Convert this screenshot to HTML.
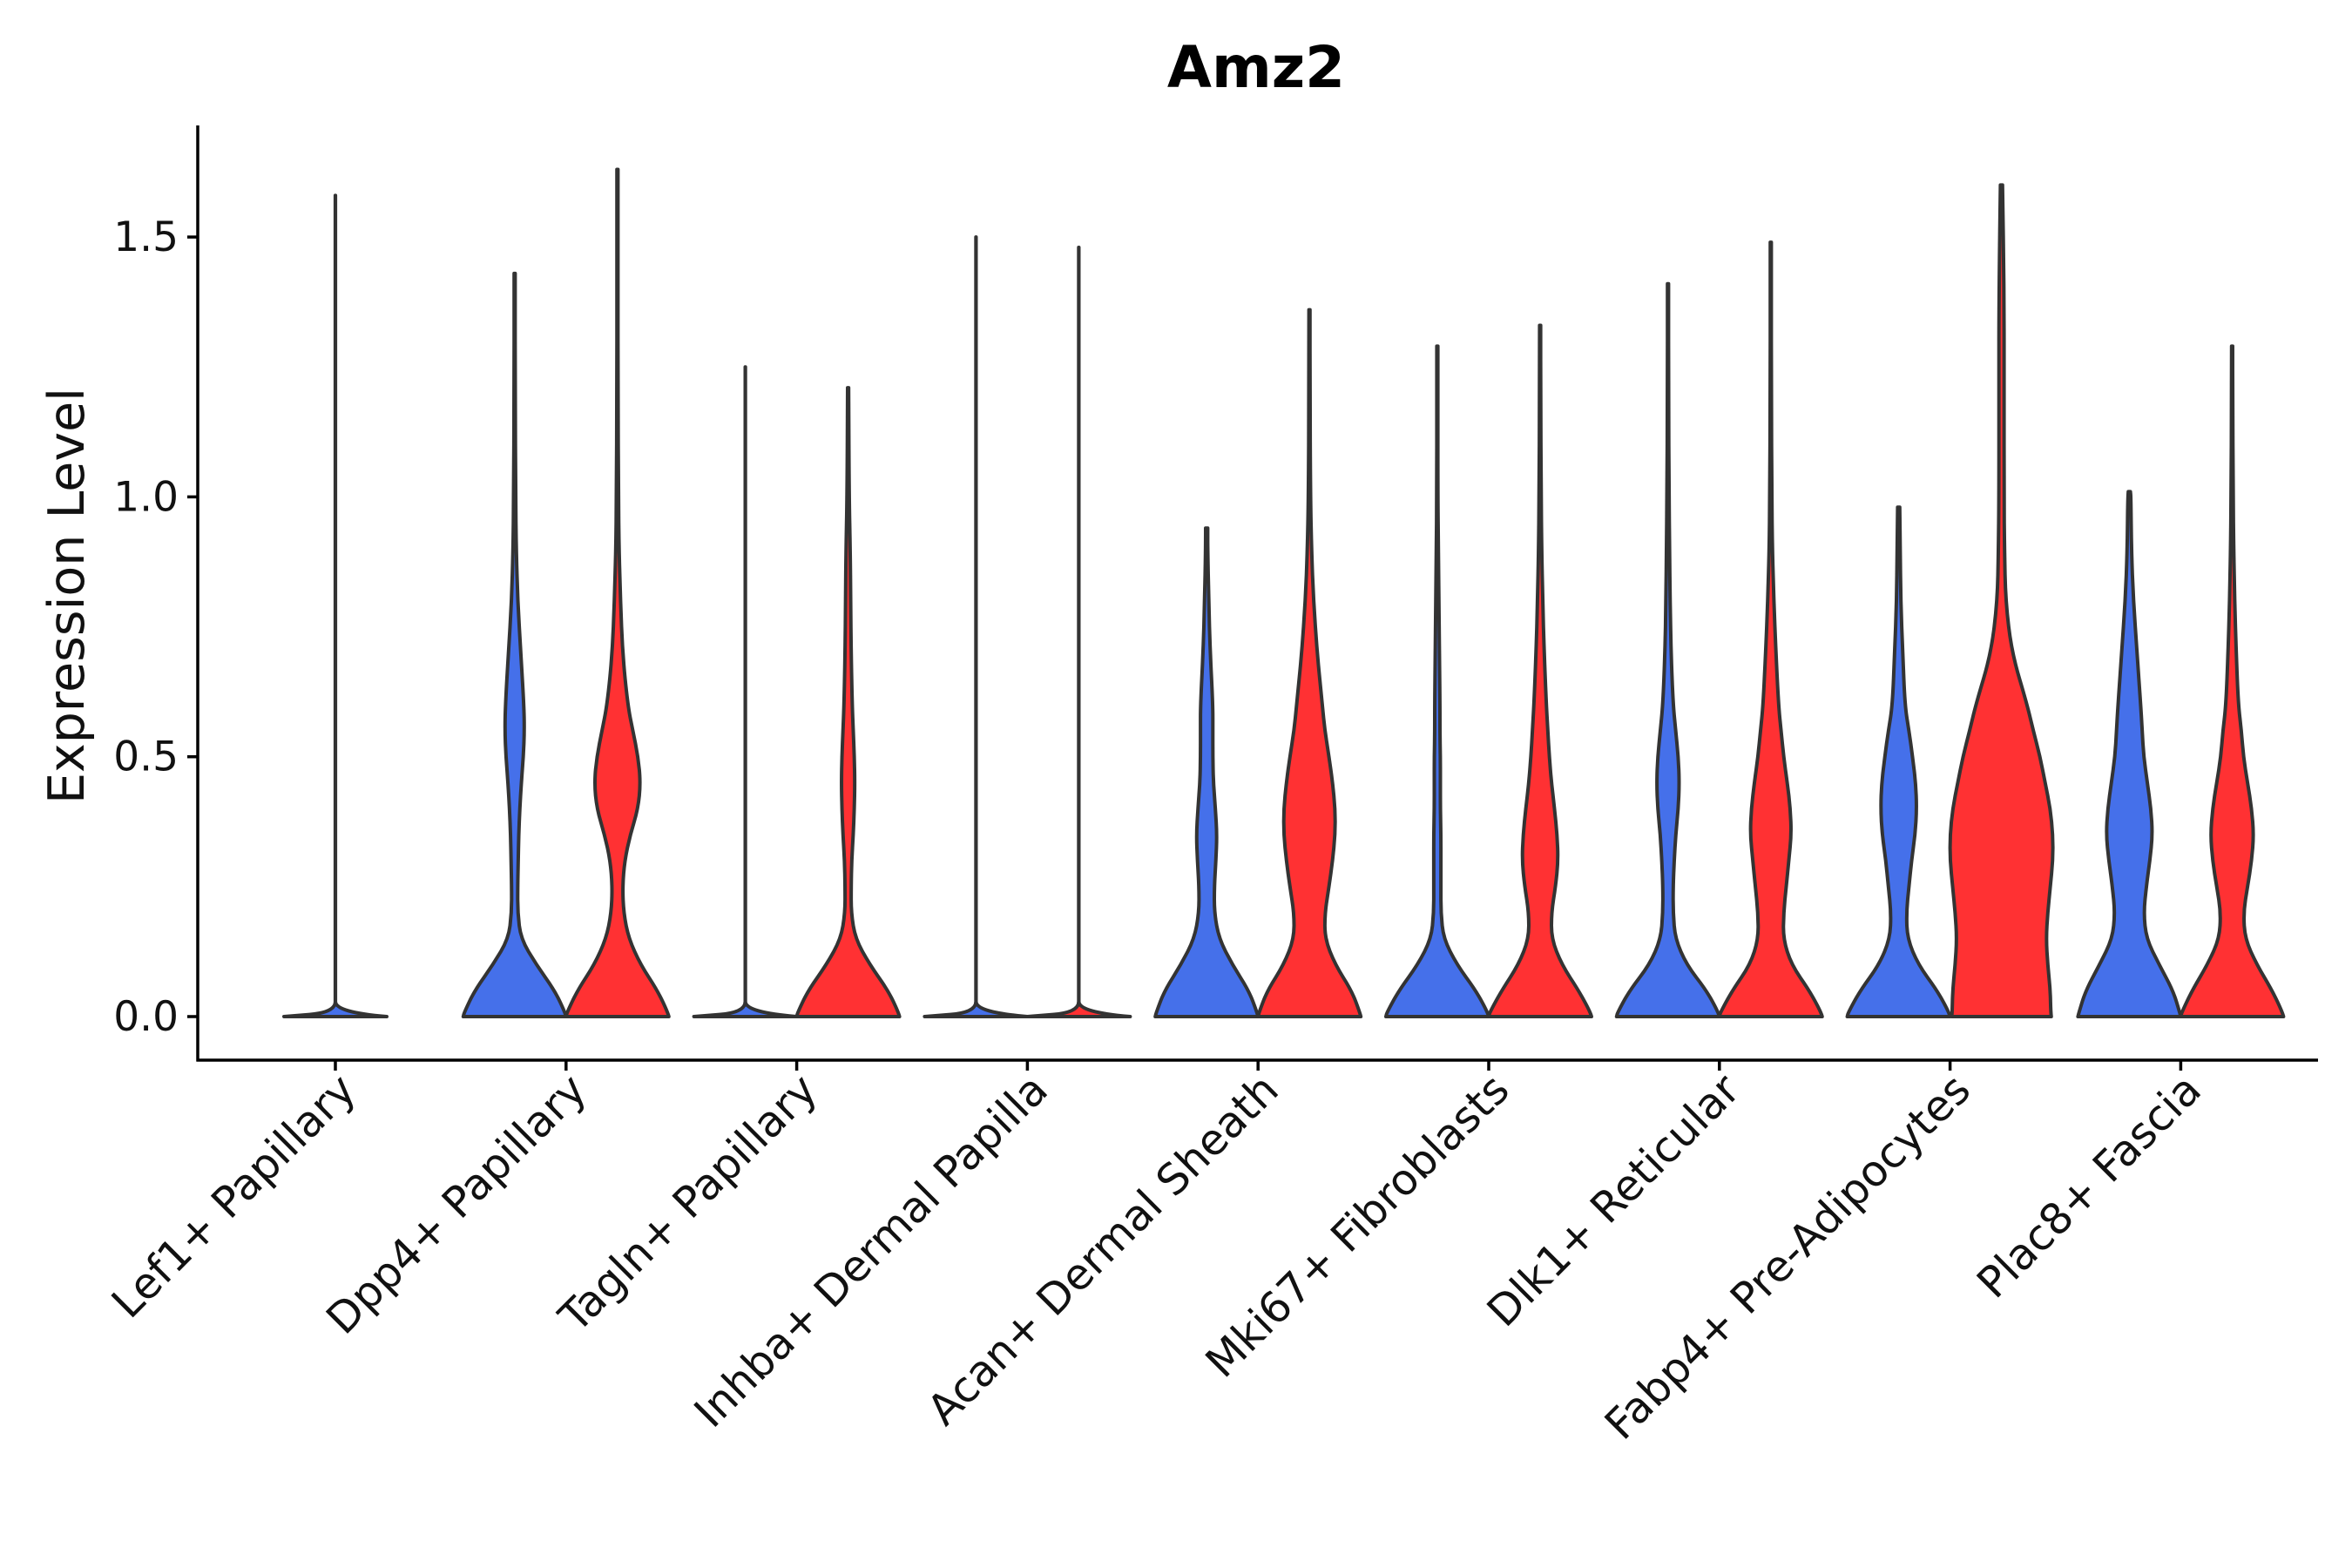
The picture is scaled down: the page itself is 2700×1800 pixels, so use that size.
<!DOCTYPE html>
<html><head><meta charset="utf-8"><style>
html,body{margin:0;padding:0;background:#fff;}
svg{display:block;font-family:"DejaVu Sans","Liberation Sans",sans-serif;}
</style></head><body>
<svg id="chart" width="2700" height="1800" viewBox="0 0 2700 1800"></svg>
<script>
const categories = ["Lef1+ Papillary","Dpp4+ Papillary","Tagln+ Papillary","Inhba+ Dermal Papilla","Acan+ Dermal Sheath","Mki67+ Fibroblasts","Dlk1+ Reticular","Fabp4+ Pre-Adipocytes","Plac8+ Fascia"];
const yTicks = [0, 0.5, 1.0, 1.5];
const yTickLabels = ["0.0","0.5","1.0","1.5"];
const levels = [0,0.008,0.05,0.1,0.15,0.2,0.25,0.3,0.35,0.4,0.45,0.5,0.55,0.6,0.7,0.8,0.9,1.0,1.2,1.4,1.6];
const flat = [1,0.002,0.002,0.002,0.002,0.002,0.002,0.002,0.002,0.002,0.002,0.002,0.002,0.002,0.002,0.002,0.002,0.002,0.002,0.002,0.002];
const violinGroup = [0,1,1,2,2,3,3,4,4,5,5,6,6,7,7,8,8];
const violinSide  = [0,-1,1,-1,1,-1,1,-1,1,-1,1,-1,1,-1,1,-1,1];
const violinMax   = [1.58,1.43,1.63,1.25,1.21,1.5,1.48,0.94,1.36,1.29,1.33,1.41,1.49,0.98,1.6,1.01,1.29];
const violinWidths = [
 flat,
 [1,0.98,0.78,0.42,0.12,0.06,0.06,0.07,0.08,0.1,0.13,0.17,0.19,0.18,0.12,0.06,0.03,0.02,0.01,0.01,0.01],
 [1,0.98,0.78,0.45,0.22,0.12,0.1,0.14,0.25,0.4,0.45,0.4,0.3,0.2,0.1,0.06,0.03,0.02,0.01,0.01,0.01],
 flat,
 [1,0.98,0.78,0.42,0.14,0.06,0.06,0.07,0.1,0.12,0.13,0.12,0.1,0.08,0.06,0.05,0.04,0.02,0.01,0.01,0.01],
 flat,
 flat,
 [1,0.98,0.82,0.5,0.24,0.15,0.15,0.18,0.2,0.17,0.13,0.12,0.12,0.12,0.07,0.04,0.02,0.02,0.02,0.02,0.02],
 [1,0.98,0.82,0.5,0.3,0.3,0.38,0.45,0.5,0.5,0.45,0.38,0.3,0.25,0.15,0.08,0.04,0.02,0.01,0.01,0.01],
 [1,0.98,0.75,0.38,0.12,0.07,0.07,0.07,0.07,0.06,0.06,0.06,0.05,0.05,0.04,0.03,0.02,0.01,0.01,0.01,0.01],
 [1,0.98,0.75,0.42,0.22,0.22,0.3,0.35,0.33,0.28,0.22,0.18,0.15,0.12,0.08,0.05,0.03,0.02,0.01,0.01,0.01],
 [1,0.98,0.75,0.36,0.14,0.1,0.1,0.12,0.15,0.2,0.22,0.2,0.15,0.1,0.06,0.04,0.03,0.02,0.01,0.01,0.01],
 [1,0.98,0.75,0.4,0.24,0.25,0.3,0.35,0.4,0.38,0.32,0.25,0.2,0.15,0.1,0.06,0.03,0.02,0.01,0.01,0.01],
 [1,0.98,0.75,0.38,0.17,0.15,0.2,0.25,0.32,0.35,0.33,0.27,0.2,0.12,0.08,0.04,0.03,0.03,0.03,0.03,0.03],
 [0.97,0.96,0.95,0.9,0.87,0.9,0.95,1.0,1.0,0.95,0.85,0.75,0.62,0.5,0.2,0.08,0.06,0.05,0.05,0.05,0.04],
 [1,0.98,0.85,0.58,0.33,0.28,0.33,0.4,0.45,0.42,0.35,0.28,0.25,0.22,0.15,0.08,0.04,0.03,0.03,0.03,0.03],
 [1,0.98,0.78,0.48,0.25,0.22,0.3,0.38,0.42,0.38,0.3,0.22,0.18,0.12,0.08,0.05,0.03,0.02,0.01,0.01,0.01]
];
const colors = {"-1":"#4570EA","1":"#FF3133","0":"#4570EA"};

const NS="http://www.w3.org/2000/svg";
const svg=document.getElementById('chart');
const X0=227, XR=2661, Y0=1167, PXU=596.6, YAX=1217, YTOP=144;
const gx0=385, gstep=264.8, off=59, halfW=59;
function xScale(i){return gx0+i*gstep;}
function yScale(v){return Y0-v*PXU;}
function mk(tag,attrs){const e=document.createElementNS(NS,tag);for(const k in attrs)e.setAttribute(k,attrs[k]);svg.appendChild(e);return e;}

for(let k=0;k<violinMax.length;k++){
  const cx=xScale(violinGroup[k])+violinSide[k]*off;
  const mx=violinMax[k], w=violinWidths[k];
  const pts=[];
  for(let j=0;j<levels.length;j++){ if(levels[j]<mx) pts.push([levels[j],w[j]]); }
  const lastW=pts[pts.length-1][1];
  pts.push([mx,Math.min(lastW,0.02)]);
  const R=pts.map(p=>[cx+p[1]*halfW,yScale(p[0])]);
  const L=pts.map(p=>[cx-p[1]*halfW,yScale(p[0])]).reverse();
  const all=R.concat(L);
  let d="M"+all[0][0].toFixed(1)+","+all[0][1].toFixed(1);
  for(let i=1;i<all.length-1;i++){
    const mxp=(all[i][0]+all[i+1][0])/2, myp=(all[i][1]+all[i+1][1])/2;
    if(i===R.length-1||i===R.length){d+=" L"+all[i][0].toFixed(1)+","+all[i][1].toFixed(1);continue;}
    d+=" Q"+all[i][0].toFixed(1)+","+all[i][1].toFixed(1)+" "+mxp.toFixed(1)+","+myp.toFixed(1);
  }
  d+=" L"+all[all.length-1][0].toFixed(1)+","+all[all.length-1][1].toFixed(1)+" Z";
  const p=mk('path',{d:d,fill:colors[String(violinSide[k])],stroke:"#333",'stroke-width':4,'stroke-linejoin':'round'});
  
  
}

const ya=mk('line',{x1:X0,y1:YTOP,x2:X0,y2:YAX+1.5,stroke:"#000",'stroke-width':3.5});


const xa=mk('line',{x1:X0-1.5,y1:YAX,x2:XR,y2:YAX,stroke:"#000",'stroke-width':3.5});



for(let i=0;i<yTicks.length;i++){
  const y=yScale(yTicks[i]);
  const t=mk('line',{x1:X0-12,y1:y,x2:X0,y2:y,stroke:"#000",'stroke-width':3.5});
  
  
  const tx=mk('text',{x:X0-22,y:y+16,'text-anchor':'end','font-size':47,fill:"#111"});
  tx.textContent=yTickLabels[i];
  
  
}
for(let i=0;i<categories.length;i++){
  const x=xScale(i);
  const t=mk('line',{x1:x,y1:YAX,x2:x,y2:YAX+12,stroke:"#000",'stroke-width':3.5});
  
  
  const ax=x+26, ay=1254;
  const tx=mk('text',{x:ax,y:ay,'text-anchor':'end','font-size':49,fill:"#111",transform:"rotate(-45 "+ax+" "+ay+")"});
  tx.textContent=categories[i];
  
  
}
const ttl=mk('text',{x:1442,y:100,'text-anchor':'middle','font-size':66,'font-weight':'bold',fill:"#000"});
ttl.textContent="Amz2";


const yc=684;
const yt=mk('text',{x:96,y:yc,'text-anchor':'middle','font-size':57,fill:"#111",transform:"rotate(-90 96 "+yc+")"});
yt.textContent="Expression Level";


</script>
</body></html>
